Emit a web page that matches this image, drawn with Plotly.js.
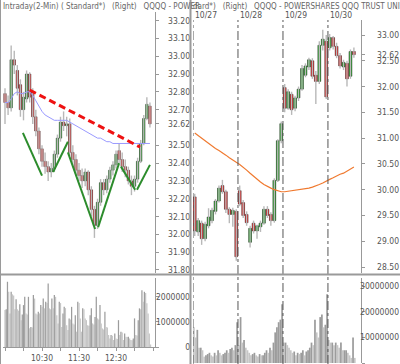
<!DOCTYPE html>
<html><head><meta charset="utf-8">
<script src="https://cdn.plot.ly/plotly-3.0.1.min.js"></script>
<style>html,body{margin:0;padding:0;background:#fff;}#chart{width:400px;height:364px;}</style>
</head><body><div id="chart"></div>
<script>
// ---------------- LEFT PANEL: intraday (minutes after 9:30) ----------------
const leftT = [0,5,10,15,20,25,30,35,40,45,50,55,60,65,70,75,80,85,90,95,100,105,110,115,120,125,130,135,140,145,150,155,160,165,170,175,180,185,190,195,200,205,210,215,220,225,230,235];
const leftOpen  = [32.79,32.74,32.71,32.98,32.92,32.84,32.70,32.76,32.90,32.80,32.66,32.58,32.48,32.41,32.38,32.35,32.37,32.45,32.54,32.63,32.61,32.62,32.46,32.42,32.36,32.33,32.30,32.35,32.25,32.14,32.05,32.18,32.29,32.25,32.31,32.36,32.39,32.47,32.42,32.38,32.36,32.30,32.27,32.31,32.41,32.51,32.65,32.72];
const leftHigh  = [32.82,32.78,33.06,33.03,32.95,32.87,32.80,32.92,32.91,32.82,32.70,32.60,32.50,32.46,32.41,32.40,32.47,32.56,32.66,32.69,32.66,32.65,32.50,32.45,32.40,32.37,32.37,32.36,32.27,32.16,32.20,32.31,32.31,32.33,32.38,32.41,32.47,32.51,32.46,32.42,32.38,32.33,32.33,32.43,32.53,32.67,32.77,32.74];
const leftLow   = [32.62,32.67,32.69,32.90,32.78,32.66,32.64,32.74,32.74,32.62,32.55,32.45,32.38,32.34,32.30,32.32,32.35,32.43,32.52,32.58,32.55,32.44,32.38,32.33,32.30,32.26,32.27,32.22,32.10,31.98,32.03,32.16,32.22,32.23,32.29,32.33,32.37,32.40,32.35,32.32,32.28,32.22,32.24,32.29,32.40,32.50,32.64,32.60];
const leftClose = [32.74,32.71,32.98,32.95,32.82,32.70,32.77,32.90,32.77,32.66,32.58,32.48,32.41,32.38,32.35,32.37,32.45,32.54,32.63,32.61,32.62,32.46,32.42,32.36,32.33,32.30,32.35,32.25,32.14,32.05,32.18,32.29,32.25,32.31,32.36,32.39,32.45,32.42,32.38,32.36,32.30,32.27,32.31,32.41,32.51,32.65,32.73,32.62];
const leftMA    = [32.74,32.74,32.76,32.79,32.80,32.79,32.79,32.80,32.80,32.78,32.75,32.72,32.69,32.67,32.66,32.65,32.64,32.64,32.64,32.64,32.64,32.63,32.62,32.61,32.60,32.59,32.58,32.57,32.56,32.55,32.54,32.54,32.53,32.52,32.52,32.51,32.51,32.51,32.51,32.51,32.51,32.51,32.51,32.51,32.51,32.51,32.51,32.51];
// hand-drawn resistance line and V patterns (minutes, price)
const trendT = [40, 219];
const trendP = [32.81, 32.49];
const patternT = [29,60,null,78,102,null,102,146,null,151,185,null,188,211,null,214,235];
const patternP = [32.57,32.33,null,32.35,32.52,null,32.46,32.03,null,32.04,32.40,null,32.38,32.25,null,32.25,32.39];
// 2-minute volume (millions of shares)
const leftVolT = [];
for (let m = 0; m <= 236; m += 2) leftVolT.push(m);
const leftVolM = [1.47,1.5,2.6,2.2,1.34,2.2,2.1,2.05,1.5,1.9,
  1.5,1.45,1.7,1.07,1.3,1.67,2.0,1.34,1.3,2.0,
  0.75,0.8,0.78,2.07,1.93,1.34,1.3,1.4,1.34,1.67,
  1.6,1.93,1.54,1.8,1.75,2.53,1.54,1.5,1.93,1.54,
  2.07,2.0,1.27,0.94,1.8,1.75,0.8,1.34,1.6,1.55,
  0.87,0.68,1.14,1.1,1.6,0.94,0.9,1.27,0.61,1.8,
  1.75,1.14,0.61,1.54,1.5,1.14,1.07,0.87,0.85,1.27,
  1.54,0.94,0.9,1.2,2.0,1.14,1.1,1.67,0.94,0.74,
  0.7,1.4,0.8,0.78,0.48,0.34,0.48,0.45,0.28,0.54,
  0.34,0.32,1.07,0.48,0.61,0.58,0.28,0.54,0.41,0.4,
  0.41,0.34,0.28,0.27,0.34,1.14,0.48,0.46,1.07,1.54,
  1.5,2.26,1.8,2.2,2.15,1.74,1.34,0.54,0.1];
const leftPriceTicks  = [31.8,31.9,32.0,32.1,32.2,32.3,32.4,32.5,32.62,32.7,32.8,32.9,33.0,33.1,33.2];
const leftPriceLabels = ['31.80','31.90','32.00','32.10','32.20','32.30','32.40','32.50','32.62','32.70','32.80','32.90','33.00','33.10','33.20'];
const leftTimeTicks  = [0,30,60,90,120,150,180,210,240];
const leftTimeLabels = ['','','10:30','','11:30','','12:30','',''];
const leftVolTicks  = [0,1,2];
const leftVolLabels = ['0','1000000','2000000'];

// ---------------- RIGHT PANEL: 30-min bars over 4 days (x = bar slot) ----------------
const rightIdx = [];
for (let k = 0; k < 47; k++) rightIdx.push(k + 0.5);
const dayStart  = [0,13,26,39];
const dayLabels = ['10/27','10/28','10/29','10/30'];
const rightOpen  = [29.86,29.18,29.35,29.05,29.30,29.40,29.58,29.78,30.08,29.96,29.62,29.52,29.58, 29.98,29.75,29.52,28.98,29.35,29.20,29.28,29.35,29.62,29.52,29.40,30.18,30.95, 31.98,31.58,31.85,31.58,31.78,31.95,32.22,32.38,32.50,32.22,32.10,32.80,32.88, 32.75,32.95,32.78,32.60,32.38,32.45,32.20,32.68];
const rightHigh  = [29.92,29.45,29.40,29.38,29.64,29.65,29.82,30.08,30.19,30.00,29.66,29.65,29.62, 30.08,29.80,29.58,29.30,29.40,29.32,29.40,29.68,29.68,29.56,30.22,30.98,31.32, 32.05,31.95,31.90,31.82,32.00,32.42,32.45,32.56,32.55,32.30,32.88,33.10,33.00, 33.02,32.98,32.85,32.65,32.52,32.50,32.72,32.76];
const rightLow   = [29.10,29.10,28.93,29.00,29.25,29.35,29.52,29.75,29.92,29.55,29.35,29.28,28.62, 29.68,29.45,29.30,28.88,29.15,29.05,29.18,29.32,29.45,29.30,29.36,30.15,30.90, 31.50,31.55,31.45,31.52,31.72,31.92,32.18,32.32,32.15,31.66,32.05,32.70,31.76, 32.70,32.72,32.55,32.35,32.32,32.00,32.15,32.56];
const rightClose = [29.20,29.40,29.05,29.33,29.47,29.60,29.78,30.03,29.96,29.62,29.52,29.60,28.70, 29.72,29.50,29.36,29.25,29.20,29.30,29.35,29.62,29.50,29.40,30.18,30.95,31.28, 31.58,31.90,31.55,31.78,31.95,32.35,32.40,32.52,32.20,32.10,32.80,32.92,31.80, 32.95,32.78,32.60,32.40,32.47,32.15,32.68,32.62];
const rightMA    = [31.10,31.05,31.00,30.94,30.89,30.84,30.80,30.76,30.72,30.67,30.62,30.57,30.53, 30.49,30.44,30.38,30.32,30.26,30.20,30.15,30.10,30.06,30.03,30.00,29.98,29.96, 29.96,29.97,29.97,29.98,29.99,30.00,30.01,30.03,30.05,30.07,30.10,30.13,30.17, 30.20,30.23,30.27,30.30,30.32,30.36,30.40,30.44];
// 15-minute volume (millions of shares), two slots per 30-min bar
const rightVolX = [];
for (let s = 0; s < 94; s++) rightVolX.push(s / 2 + 0.25);
const rightVolM  = [14,10,13,6,6,5,2.5,3,3.5,4,3,2.5,4,3,5,4,3,3.5,4,5,4,5.5,6,5,7,16,
  7,18,8,9,6,5,4,3,3.5,4,3,2.5,3.5,3,3,4,5,4,6,5,8,12,14,16,17,23,
  8,8,7,6,5,4,4.5,3,4,3.5,4,5,3,4.5,5,6,8,7,17,12,10,18,19,14,15,27,
  9,8,8,7,8,7,6,8,5,5,5,4,3,2,10,2];
const rightPriceTicks  = [28.5,29,29.5,30,30.5,31,31.5,32,32.5,32.62,33];
const rightPriceLabels = ['28.50','29.00','29.50','30.00','30.50','31.00','31.50','32.00','32.50','32.62','33.00'];
const rightVolTicks  = [0,10,20,30];
const rightVolLabels = ['0','10000000','20000000','30000000'];

// ---------------- helpers ----------------
const UP = '#10a010', DOWN = '#ee1010';
function candles(x, o, h, l, c, xa, ya, w) {
  const wx = [], wy = [];
  x.forEach((v, i) => { wx.push(v, v, null); wy.push(l[i], h[i], null); });
  const base = o.map((v, i) => Math.min(v, c[i]));
  const len  = o.map((v, i) => Math.max(Math.abs(c[i] - v), 0.008));
  const col  = o.map((v, i) => (c[i] >= v ? UP : DOWN));
  return [
    {type:'scatter', mode:'lines', x:wx, y:wy, xaxis:xa, yaxis:ya, line:{color:'#b8b8b8', width:1.4}, hoverinfo:'skip'},
    {type:'bar', x:x, y:len, base:base, width:w, xaxis:xa, yaxis:ya, marker:{color:col, line:{color:'#1e1e1e', width:0.5}}, hoverinfo:'skip'}
  ];
}
const FONT = 'Liberation Sans Narrow, DejaVu Sans Condensed, Arial Narrow, Liberation Sans, Arial, sans-serif';
const W = 400, H = 364;
const px = v => v / W, py = v => 1 - v / H;

const shade = arr => arr.map((v, i) => (i > 0 && v >= arr[i-1]) ? '#9c9c9c' : '#c6c6c6');

const traces = [
  ...candles(leftT, leftOpen, leftHigh, leftLow, leftClose, 'x', 'y', 3.9),
  {type:'scatter', mode:'lines', x:leftT, y:leftMA, xaxis:'x', yaxis:'y', line:{color:'#9a9aff', width:1}, hoverinfo:'skip'},
  {type:'scatter', mode:'lines', x:trendT, y:trendP, xaxis:'x', yaxis:'y', line:{color:'#ee1111', width:3, dash:'7px,4px'}, hoverinfo:'skip'},
  {type:'scatter', mode:'lines', x:patternT, y:patternP, xaxis:'x', yaxis:'y', connectgaps:false, line:{color:'#2c8c2c', width:2}, hoverinfo:'skip'},
  {type:'bar', x:leftVolT, y:leftVolM, width:2, xaxis:'x2', yaxis:'y2', marker:{color:shade(leftVolM), line:{width:0}}, hoverinfo:'skip'},
  ...candles(rightIdx, rightOpen, rightHigh, rightLow, rightClose, 'x3', 'y3', 0.82),
  {type:'scatter', mode:'lines', x:rightIdx, y:rightMA, xaxis:'x3', yaxis:'y3', line:{color:'#f07a30', width:1.2}, hoverinfo:'skip'},
  {type:'bar', x:rightVolX, y:rightVolM, width:0.5, xaxis:'x4', yaxis:'y4', marker:{color:shade(rightVolM), line:{width:0}}, hoverinfo:'skip'},
  // invisible carriers for the label axes
  {type:'scatter', mode:'markers', x:[leftT[0]], y:[leftClose[0]], xaxis:'x', yaxis:'y5', marker:{opacity:0}, hoverinfo:'skip'},
  {type:'scatter', mode:'markers', x:[leftVolT[0]], y:[leftVolM[0]], xaxis:'x2', yaxis:'y6', marker:{opacity:0}, hoverinfo:'skip'},
  {type:'scatter', mode:'markers', x:[rightIdx[0]], y:[rightClose[0]], xaxis:'x3', yaxis:'y7', marker:{opacity:0}, hoverinfo:'skip'},
  {type:'scatter', mode:'markers', x:[rightVolX[0]], y:[rightVolM[0]], xaxis:'x4', yaxis:'y8', marker:{opacity:0}, hoverinfo:'skip'}
];

const tickFont = {family:FONT, size:8.5, color:'#555'};
const lineAx = {showline:true, linecolor:'#999', linewidth:1, ticks:'outside', ticklen:3, tickcolor:'#999', showticklabels:false, showgrid:false, zeroline:false, fixedrange:true};
const labelAx = {showline:false, ticks:'', showgrid:false, zeroline:false, side:'left', anchor:'free', tickfont:tickFont, fixedrange:true};
const LX = [px(3), px(155)], RX = [px(193), px(361)];
const leftRangeX = [-3.24, 243.2], rightRangeX = [0, 48.55];
const leftPriceRange = [31.783, 33.248], rightPriceRange = [28.384, 33.291];
const leftVolRange = [0, 2.75], rightVolRange = [0, 33.33];

const layout = {
  width:W, height:H, margin:{l:0,r:0,t:0,b:0}, paper_bgcolor:'#fff', plot_bgcolor:'rgba(0,0,0,0)',
  showlegend:false, barmode:'overlay', font:{family:FONT, size:9, color:'#555'},
  xaxis:{domain:LX, range:leftRangeX, anchor:'y', visible:false, fixedrange:true},
  yaxis:Object.assign({}, lineAx, {domain:[py(273), py(12)], range:leftPriceRange, side:'right', anchor:'x', tickvals:leftPriceTicks}),
  yaxis5:Object.assign({}, labelAx, {overlaying:'y', position:px(190), range:leftPriceRange, tickvals:leftPriceTicks, ticktext:leftPriceLabels}),
  xaxis2:{domain:LX, range:leftRangeX, anchor:'y2', showline:true, linecolor:'#999', ticks:'outside', ticklen:3, tickcolor:'#999', tickvals:leftTimeTicks, ticktext:leftTimeLabels, tickfont:tickFont, showgrid:false, zeroline:false, fixedrange:true},
  yaxis2:Object.assign({}, lineAx, {domain:[py(347), py(278)], range:leftVolRange, side:'right', anchor:'x2', tickvals:leftVolTicks}),
  yaxis6:Object.assign({}, labelAx, {overlaying:'y2', position:px(190), range:leftVolRange, tickvals:leftVolTicks, ticktext:leftVolLabels}),
  xaxis3:{domain:RX, range:rightRangeX, anchor:'y3', visible:false, fixedrange:true},
  yaxis3:Object.assign({}, lineAx, {domain:[py(273), py(20)], range:rightPriceRange, side:'right', anchor:'x3', tickvals:rightPriceTicks}),
  yaxis7:Object.assign({}, labelAx, {overlaying:'y3', position:px(399), range:rightPriceRange, tickvals:rightPriceTicks, ticktext:rightPriceLabels}),
  xaxis4:{domain:RX, range:rightRangeX, anchor:'y4', visible:false, fixedrange:true},
  yaxis4:Object.assign({}, lineAx, {domain:[py(363), py(278)], range:rightVolRange, side:'right', anchor:'x4', tickvals:rightVolTicks}),
  yaxis8:Object.assign({}, labelAx, {overlaying:'y4', position:px(399), range:rightVolRange, tickvals:rightVolTicks, ticktext:rightVolLabels}),
  shapes: [
    ...dayStart.map(d => ({type:'line', xref:'x3', yref:'paper', x0:d, x1:d, y0:0, y1:py(20), line:{color:'#555', width:1, dash:'dashdot'}, layer:'above'})),
    {type:'line', xref:'paper', yref:'paper', x0:0, x1:1, y0:py(274.5), y1:py(274.5), line:{color:'#9a9a9a', width:2}, layer:'above'},
    {type:'line', xref:'paper', yref:'paper', x0:px(190.5), x1:px(190.5), y0:0, y1:1, line:{color:'#9a9a9a', width:2}, layer:'above'},
    {type:'line', xref:'paper', yref:'paper', x0:px(0.5), x1:px(0.5), y0:0, y1:1, line:{color:'#9a9a9a', width:1}, layer:'above'}
  ],
  annotations: [
    {xref:'paper', yref:'paper', x:px(1), y:py(6), xanchor:'left', yanchor:'middle', showarrow:false, text:'Intraday(2-Min)\u00a0( Standard*)\u00a0\u00a0\u00a0(Right)\u00a0\u00a0\u00a0QQQQ - POWER', font:{family:FONT, size:8, color:'#666'}},
    {xref:'paper', yref:'paper', x:px(191), y:py(6), xanchor:'left', yanchor:'middle', showarrow:false, text:'dard*)\u00a0\u00a0\u00a0(Right)\u00a0\u00a0\u00a0QQQQ - POWERSHARES QQQ TRUST UNI', font:{family:FONT, size:8, color:'#666'}},
    ...dayStart.map((d, i) => ({xref:'x3', yref:'paper', x:d, y:py(15), xanchor:'left', yanchor:'middle', showarrow:false, text:dayLabels[i], font:{family:FONT, size:8.5, color:'#555'}}))
  ]
};
Plotly.newPlot('chart', traces, layout, {staticPlot:true, displayModeBar:false});
</script></body></html>
